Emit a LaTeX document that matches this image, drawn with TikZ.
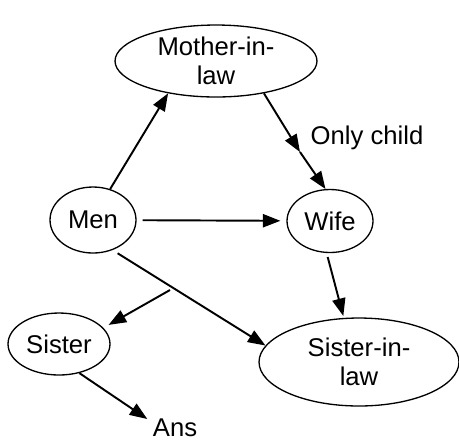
\documentclass[tikz,border=0pt]{standalone}
\usepackage{fontspec}
\setmainfont{Liberation Sans}
\usetikzlibrary{shapes.geometric,arrows.meta}

\begin{document}
\begin{tikzpicture}
  [x=0.02cm,y=-0.02cm,
   every node/.style={font=\fontsize{14.6}{16.8}\selectfont,align=center,inner sep=0pt},
   person/.style={ellipse,draw,line width=0.75pt},
   link/.style={line width=1.1pt,-{Triangle[length=10pt,width=7.5pt]}}]
  \useasboundingbox (0,0) rectangle (459,441);

  \node[person,minimum width=4.04cm,minimum height=1.44cm] (mil) at (216,61) {Mother-in-\\law};
  \node[person,minimum width=1.72cm,minimum height=1.32cm] (men) at (93,220) {Men};
  \node[person,minimum width=1.72cm,minimum height=1.26cm] (wife) at (330,221) {Wife};
  \node[person,minimum width=2.04cm,minimum height=1.24cm] (sis) at (59,344) {Sister};
  \node[person,minimum width=4cm,minimum height=1.76cm] (sil) at (359,362) {Sister-in-\\law};
  \node[inner sep=3pt] (ans) at (175,428) {Ans};
  \node (only) at (367,138) {Only child};
  \coordinate (oc) at (300,152);
  \coordinate (br) at (170,290);

  \foreach \from/\to in {men.61/mil.214,mil.326/oc,oc/wife.98,sis.305/ans.162}
    \draw[link] (\from) -- (\to);
  \draw[link,shorten <=3.4pt,shorten >=3.4pt] (men) -- (wife);
  \draw[link,shorten <=2.3pt,shorten >=1.1pt] (wife.264) -- (sil.109);
  \draw[link,shorten <=3.4pt] (men.303) -- (sil.170);
  \draw[link,shorten >=3.4pt] (br) -- (sis.20);

\end{tikzpicture}
\end{document}
